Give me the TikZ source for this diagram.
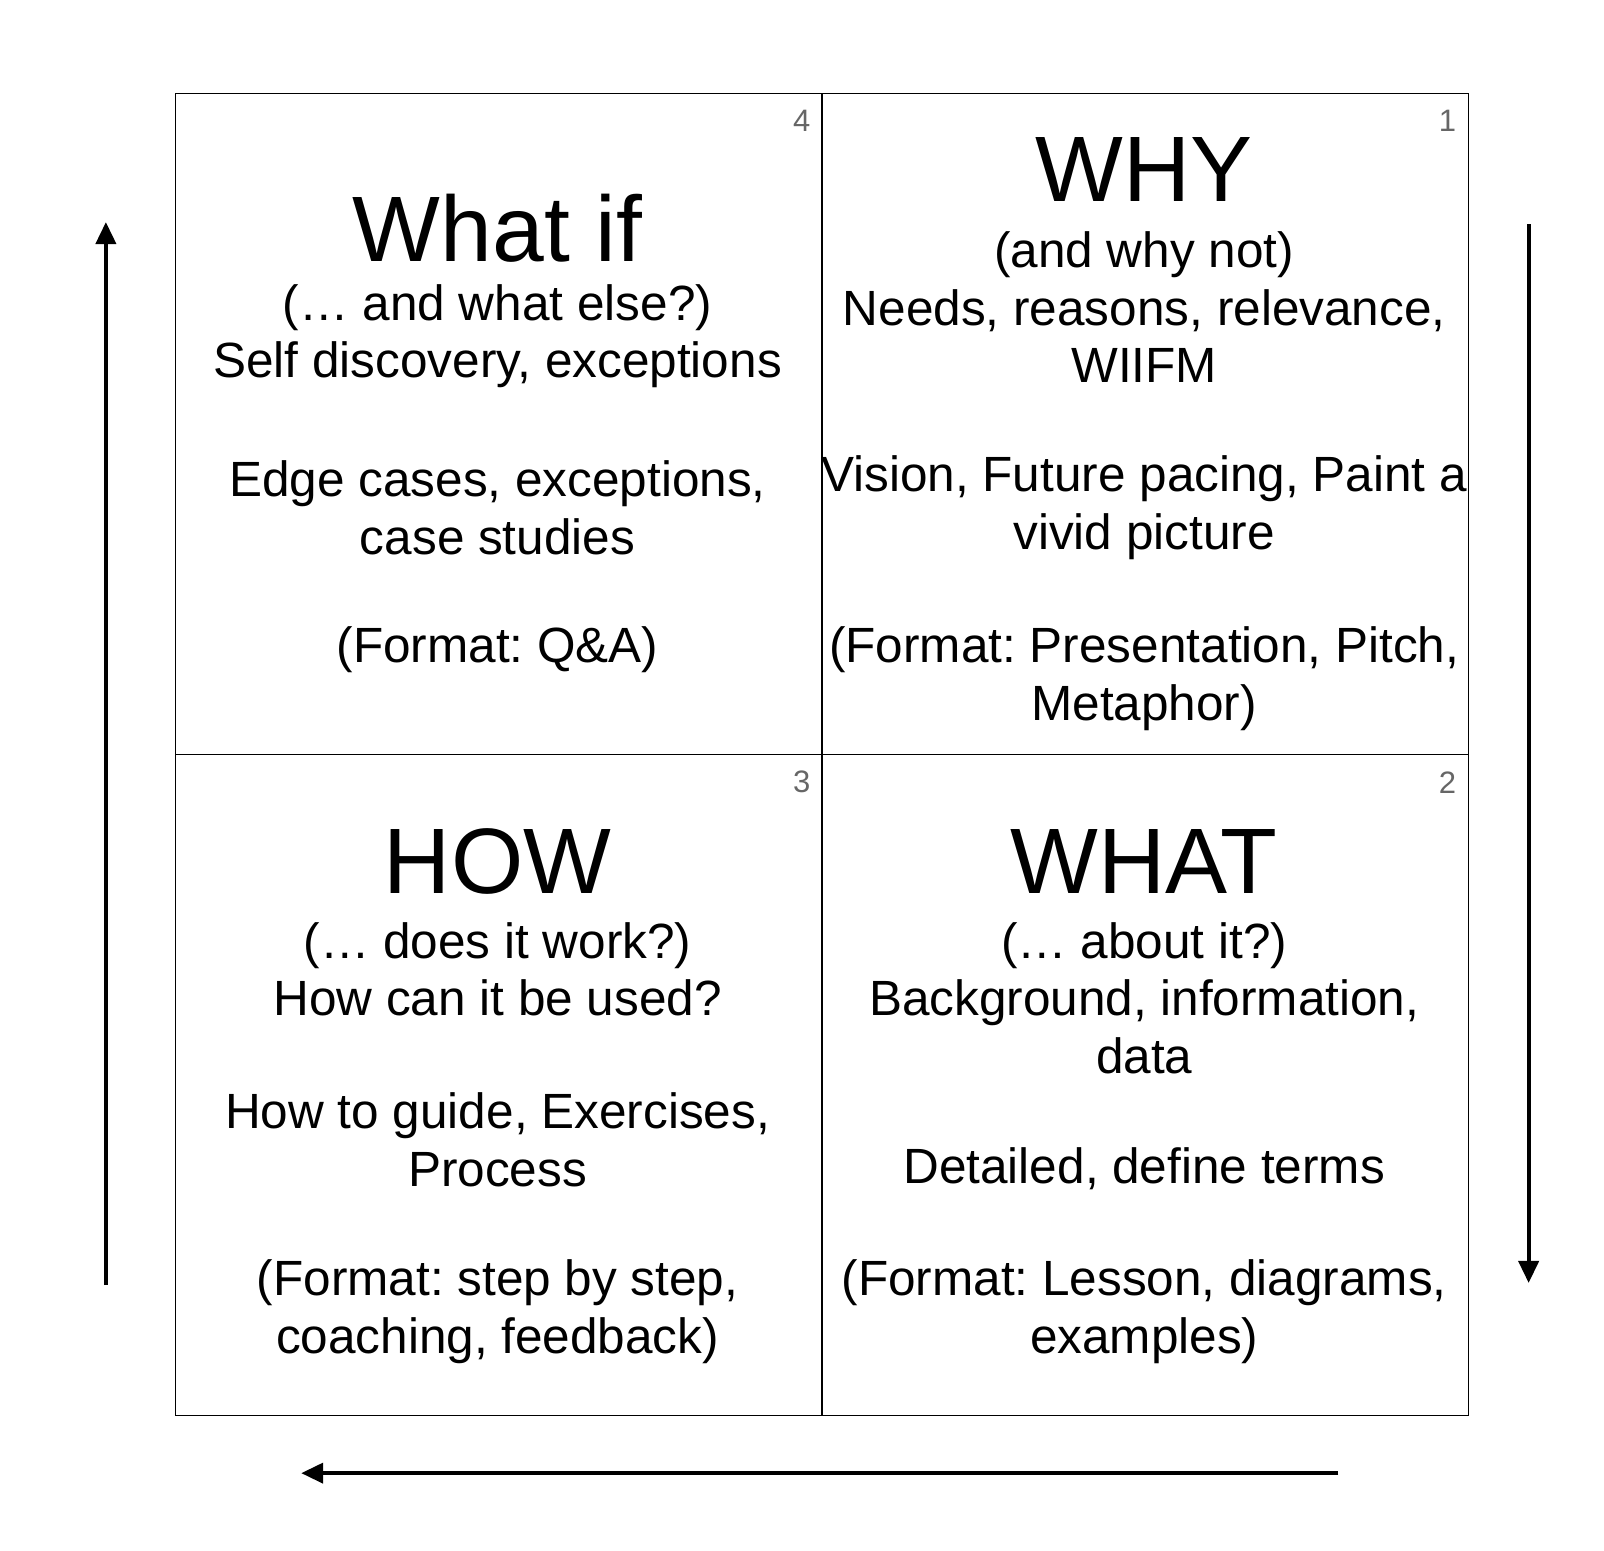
\documentclass[tikz,border=0pt]{standalone}
\usepackage{fontspec}
\setmainfont{Liberation Sans}
\usetikzlibrary{arrows.meta}
\begin{document}
\frenchspacing
\begin{tikzpicture}[x=1.028pt,y=-1.028pt,
  cell/.style={draw=black,line width=1.2pt,minimum width=646.6pt,minimum height=661pt,anchor=north west,inner sep=0pt},
  body/.style={align=center,font=\fontsize{49.5}{57.6}\selectfont},
  ttl/.style={font=\fontsize{93}{100}\selectfont},
  num/.style={text=gray!80!black,font=\fontsize{31}{34}\selectfont},
  arr/.style={line width=4pt,-{Triangle[length=22pt,width=20pt]}}]
\useasboundingbox (0,0) rectangle (1560.3,1507.8);
\node[cell] (q4) at (170,90) {};
\node[cell] (q1) at (799,90) {};
\node[cell] (q3) at (170,733) {};
\node[cell] (q2) at (799,733) {};
\node[num] (n4) at (780,118) {4};
\node[num] (n1) at (1408,118) {1};
\node[num] (n3) at (780,761) {3};
\node[num] (n2) at (1408,761) {2};
\node[ttl] (t4) at (484,222) {What if};
\node[body] (b4) at (484,327) {(… and what else?)\\Self discovery, exceptions};
\node[body] (c4) at (484,494) {Edge cases, exceptions,\\case studies};
\node[body] (d4) at (484,632) {(Format: Q\&A)};
\node[ttl] (t1) at (1113,165) {WHY};
\node[body] (b1) at (1113,299) {(and why not)\\Needs, reasons, relevance,\\WIIFM};
\node[body] (c1) at (1113,494) {Vision, Future pacing, Paint a\\vivid picture};
\node[body] (d1) at (1113,660) {(Format: Presentation, Pitch,\\Metaphor)};
\node[ttl] (t3) at (484,838) {HOW};
\node[body] (b3) at (484,943) {(… does it work?)\\How can it be used?};
\node[body] (c3) at (484,1109) {How to guide, Exercises,\\Process};
\node[body] (d3) at (484,1276) {(Format: step by step,\\coaching, feedback)};
\node[ttl] (t2) at (1113,838) {WHAT};
\node[body] (b2) at (1113,971) {(… about it?)\\Background, information,\\data};
\node[body] (c2) at (1113,1137) {Detailed, define terms};
\node[body] (d2) at (1113,1276) {(Format: Lesson, diagrams,\\examples)};
\coordinate (r1) at (1487,218); \coordinate (r2) at (1487,1248);
\coordinate (b1a) at (1302,1433); \coordinate (b2a) at (293,1433);
\coordinate (l1) at (103,1250); \coordinate (l2) at (103,216);
\draw[arr] (r1) -- (r2);
\draw[arr] (b1a) -- (b2a);
\draw[arr] (l1) -- (l2);
\end{tikzpicture}
\end{document}
